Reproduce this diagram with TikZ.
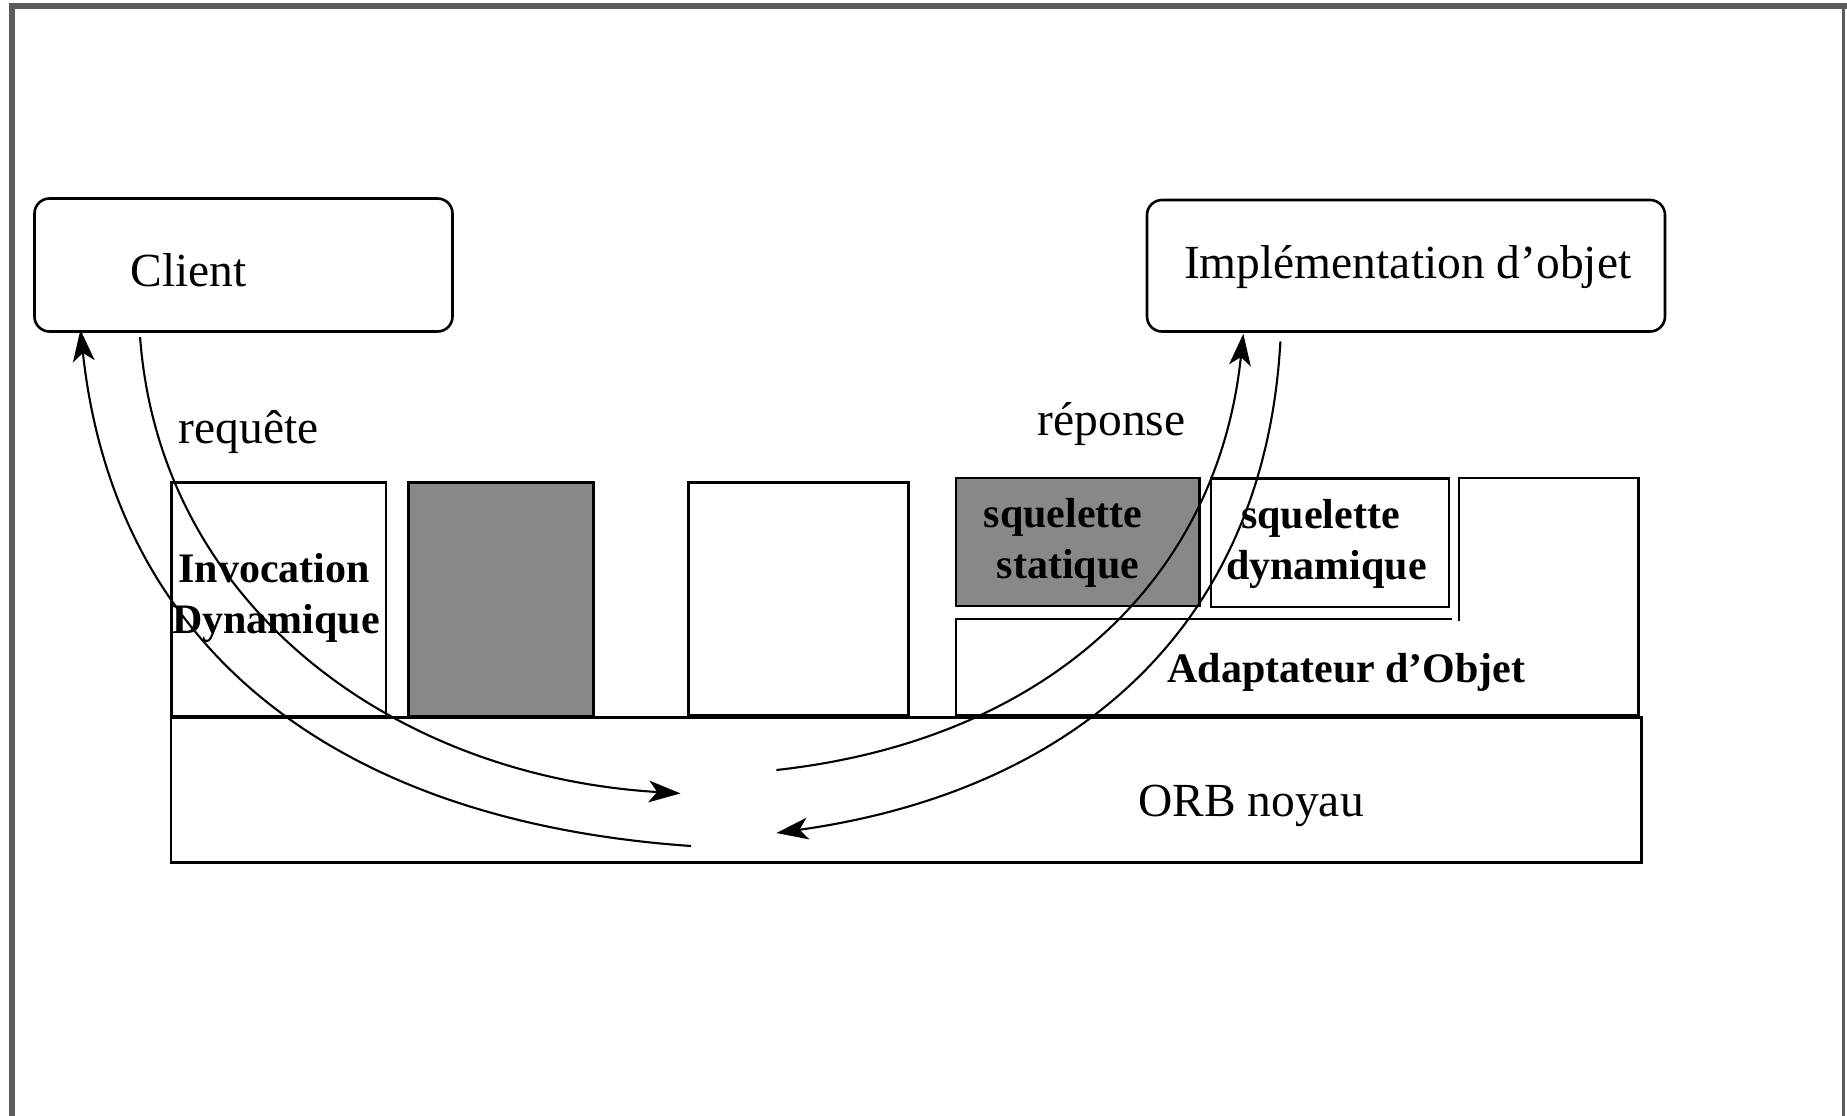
\documentclass[tikz,border=0pt]{standalone}
\usepackage{fontspec}
\setmainfont{Liberation Serif}
\usetikzlibrary{arrows.meta,fit}
\definecolor{framegray}{RGB}{92,92,92}
\definecolor{blockgray}{RGB}{136,136,136}
\begin{document}
\begin{tikzpicture}[x=1pt,y=-1pt,
  box/.style={draw=black, line width=2.6pt, inner sep=0pt, outer sep=0pt},
  rbox/.style={box, rounded corners=15pt},
  shaded/.style={box, fill=blockgray},
  flow/.style={line width=2.1pt, -{Stealth[length=31.7pt,width=21.7pt,inset=8.3pt]}},
  plain/.style={font=\fontsize{47.5}{55}\selectfont, inner sep=0pt, anchor=base},
  heavy/.style={font=\fontsize{42}{50}\selectfont\bfseries, inner sep=0pt, anchor=base},
]
% page and frame
\fill[white] (0,0) rectangle (1847,1116);
\useasboundingbox (0,0) rectangle (1847,1116);
\fill[framegray] (9,3) rectangle (15,1116);
\fill[framegray] (9,3) rectangle (1847,9);
\fill[framegray] (1842,3) rectangle (1844.5,1116);

% client and server objects
\node[rbox, fit={(34.5,198.5) (452.5,331.5)}] (client) {};
\node[plain] (clientlbl) at (188.5,286) {Client};
\node[rbox, fit={(1147,200) (1665,331.5)}] (impl) {};
\node[plain] (impllbl) at (1407.7,278.3) {Implémentation d’objet};

\node[plain] (reqlbl) at (248.5,443) {requête};
\node[plain] (replbl) at (1111.5,435) {réponse};

% ORB core
\node[box, fit={(170.8,717.5) (1641.7,862.3)}] (orb) {};
\node[plain] (orblbl) at (1251,816.6) {ORB noyau};

% client side interfaces
\node[box, fit={(171.7,482.7) (386,716)}] (dii) {};
\node[heavy] (dii1) at (274.2,582.7) {Invocation};
\node[heavy] (dii2) at (276,633) {Dynamique};
\node[shaded, fit={(408.3,482.7) (593.3,716)}] (stubs) {};
\node[box, fit={(688.3,482.5) (908.4,715.5)}] (orbif) {};

% server side interfaces
\node[shaded, fit={(956,478) (1199.5,606)}] (ssi) {};
\node[heavy] (ssi1) at (1063,527.5) {squelette};
\node[heavy] (ssi2) at (1068,578.5) {statique};
\node[box, fit={(1211,478.5) (1449,607)}] (dsi) {};
\node[heavy] (dsi1) at (1320.5,528) {squelette};
\node[heavy] (dsi2) at (1326.5,579) {dynamique};
\draw[line width=2.6pt] (1452,619) -- (956,619) -- (956,715) -- (1638.5,715)
  -- (1638.5,478) -- (1459,478) -- (1459,621);
\node[heavy] (oalbl) at (1346.5,682) {Adaptateur d’Objet};

% end points of the request / reply paths
\coordinate (reqStart) at ([xshift=105.6pt,yshift=-5.7pt]client.south west);
\coordinate (retEnd)   at ([xshift=45.9pt,yshift=1.8pt]client.south west);
\coordinate (repEnd)   at ([xshift=96.3pt,yshift=-2.3pt]impl.south west);
\coordinate (impStart) at ([xshift=133.4pt,yshift=-9.9pt]impl.south west);
\coordinate (reqEnd)   at ([xshift=509.7pt,yshift=-75.9pt]orb.north west);
\coordinate (retStart) at ([xshift=520.2pt,yshift=-128.5pt]orb.north west);
\coordinate (repStart) at ([xshift=605.6pt,yshift=-52.5pt]orb.north west);
\coordinate (impEnd)   at ([xshift=605.6pt,yshift=-115.5pt]orb.north west);

\draw[flow] (reqStart) .. controls (159.9,605.1) and (393.2,776.2) .. (reqEnd);
\draw[flow] (retStart) .. controls (322.5,820.2) and (113.7,638.4) .. (retEnd);
\draw[flow] (repStart) .. controls (1040.5,741) and (1216.8,585.8) .. (repEnd);
\draw[flow] (impStart) .. controls (1264.1,632.5) and (1069,792) .. (impEnd);
\end{tikzpicture}
\end{document}
